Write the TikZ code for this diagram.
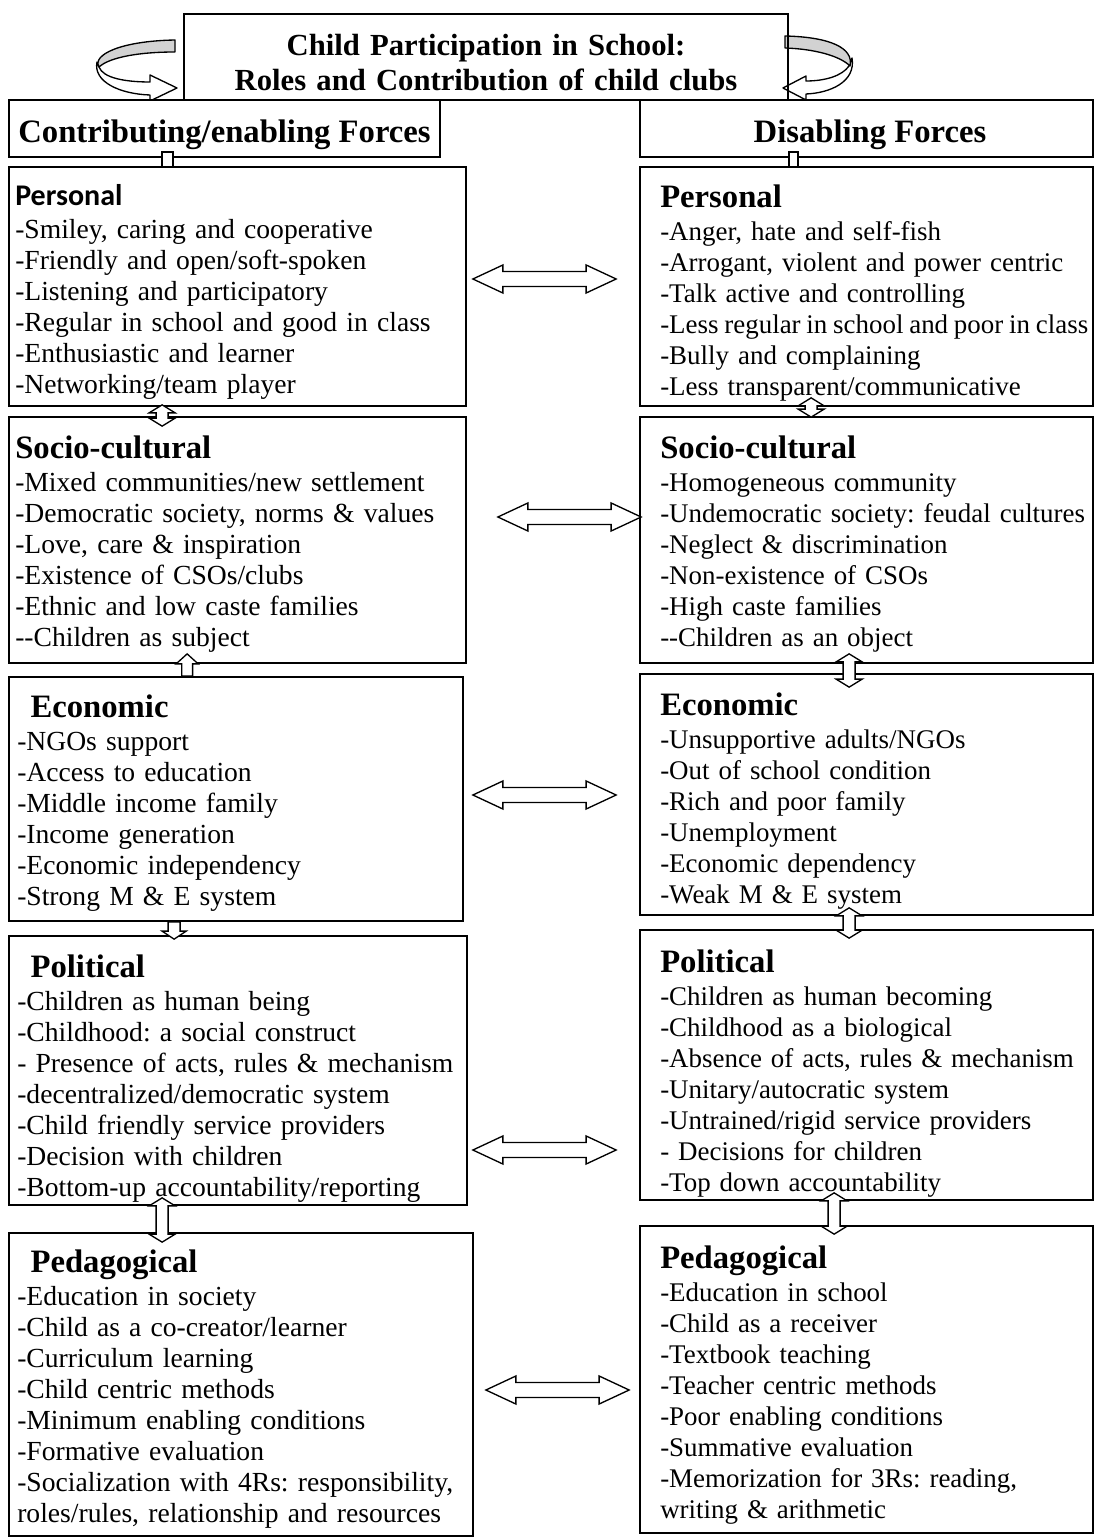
\documentclass[tikz,border=0pt]{standalone}
\usepackage{fontspec}
\setmainfont{Liberation Serif}
\newfontfamily\calibrifont{Carlito}
\usetikzlibrary{calc,fit}
\frenchspacing
\newcommand\bodyfont{\fontsize{20.7}{23.25}\selectfont}
\newcommand\rbodyfont{\fontsize{20.2}{23.25}\selectfont}
\newcommand\headfont{\fontsize{24.5}{26}\selectfont\bfseries}
\newcommand\sansheadfont{\calibrifont\fontsize{22.5}{24}\selectfont\bfseries}
\newcommand\titlefont{\fontsize{23}{26.25}\selectfont\bfseries}
\newcommand\tightspaces{\spaceskip=0.215em\relax}
\tikzset{
 box/.style={draw, line width=1.3pt, fill=white, rectangle, inner sep=0pt},
 linkbox/.style={draw, line width=1pt, fill=white, rectangle, inner sep=0pt},
 txt/.style={anchor=base west, inner sep=0pt, text width=400pt, align=left, font=\bodyfont},
 rtxt/.style={txt, font=\rbodyfont},
 headtxt/.style={anchor=base, inner sep=0pt, font=\headfont},
 blockarrow/.style={draw, line width=1pt, fill=white, line join=miter},
 ribbon/.style={draw, line width=1pt, line join=round},
}
% horizontal double block arrow
\newcommand\HArrow[2]{\draw[blockarrow] let \p1=#1, \p2=#2 in (\x1,\y1) -- (\x1+22.5pt,\y1+10.5pt) -- (\x1+22.5pt,\y1+5.6pt) -- (\x2-22.5pt,\y1+5.6pt) -- (\x2-22.5pt,\y1+10.5pt) -- (\x2,\y1) -- (\x2-22.5pt,\y1-10.5pt) -- (\x2-22.5pt,\y1-5.6pt) -- (\x1+22.5pt,\y1-5.6pt) -- (\x1+22.5pt,\y1-10.5pt) -- cycle;}
% vertical double block arrow (top point, bottom point)
\newcommand\VArrow[2]{\draw[blockarrow] let \p1=#1, \p2=#2 in (\x1,\y1) -- (\x1+9.75pt,\y1-6pt) -- (\x1+4.5pt,\y1-6pt) -- (\x1+4.5pt,\y2+6pt) -- (\x1+9.75pt,\y2+6pt) -- (\x1,\y2) -- (\x1-9.75pt,\y2+6pt) -- (\x1-4.5pt,\y2+6pt) -- (\x1-4.5pt,\y1-6pt) -- (\x1-9.75pt,\y1-6pt) -- cycle;}
% single up arrow (tip, tail)
\newcommand\UArrow[2]{\draw[blockarrow] let \p1=#1, \p2=#2 in (\x1,\y1) -- (\x1+8.25pt,\y1-7.5pt) -- (\x1+4.1pt,\y1-7.5pt) -- (\x1+4.1pt,\y2) -- (\x1-4.1pt,\y2) -- (\x1-4.1pt,\y1-7.5pt) -- (\x1-8.25pt,\y1-7.5pt) -- cycle;}
% single down arrow (tail, tip)
\newcommand\DArrow[2]{\draw[blockarrow] let \p1=#1, \p2=#2 in (\x1-4.5pt,\y1) -- (\x1+4.5pt,\y1) -- (\x1+4.5pt,\y2+6pt) -- (\x1+9pt,\y2+6pt) -- (\x1,\y2) -- (\x1-9pt,\y2+6pt) -- (\x1-4.5pt,\y2+6pt) -- cycle;}
\begin{document}
\begin{tikzpicture}[x=0.75pt, y=-0.75pt]
\useasboundingbox[fill=white] (0,0) rectangle (1095,1540);

% curved ribbon arrows at the title
\draw[ribbon, fill=white] (97,62) .. controls (93,82) and (120,94) .. (150,95) -- (150,101) -- (177,88) -- (150,75) -- (150,82) .. controls (125,82) and (103,78) .. (99,67) -- cycle;
\draw[ribbon, fill=gray!35] (175,40) .. controls (120,41) and (92,55) .. (99,67) .. controls (110,57) and (140,52) .. (175,52) -- cycle;
\draw[ribbon, fill=white] (852,58) .. controls (856,82) and (830,93) .. (806,94) -- (806,100) -- (783,88) -- (806,76) -- (806,81) .. controls (825,81) and (842,76) .. (849,66) -- cycle;
\draw[ribbon, fill=gray!35] (785,36) .. controls (830,37) and (854,48) .. (850,66) .. controls (840,56) and (815,49) .. (785,48) -- cycle;

% title
\node[box, fill=none, fit={(184,14) (788,100)}] (T) {};
\node[anchor=base, inner sep=0pt, text width=450pt, align=center, font=\titlefont] (Tt) at (486,56) {Child Participation in School:\\Roles and Contribution of child clubs};

% column heads
\node[box, fit={(9,100) (440,157)}] (LC) {};
\node[headtxt] (LCt) at (224.5,143) {Contributing/enabling Forces};
\node[box, fit={(640,100) (1093,157)}] (RC) {};
\node[headtxt] (RCt) at (870,143) {Disabling Forces};

% left boxes
\node[box, fit={(9,167) (466,406)}] (LP) {};
\node[box, fit={(9,417) (466,663)}] (LS) {};
\node[box, fit={(9,677) (463,921)}] (LE) {};
\node[box, fit={(9,936) (467,1205)}] (LPo) {};
\node[box, fit={(9,1233) (473,1536)}] (LPe) {};
% right boxes
\node[box, fit={(640,167) (1093,406)}] (RP) {};
\node[box, fit={(640,417) (1093,663)}] (RS) {};
\node[box, fit={(640,674) (1093,915)}] (RE) {};
\node[box, fit={(640,930) (1093,1200)}] (RPo) {};
\node[box, fit={(640,1226) (1093,1533)}] (RPe) {};

% small links under column heads
\node[linkbox, fit={(162,152) (173,167)}] (Llink) {};
\node[linkbox, fit={(789,152) (798,167)}] (Rlink) {};

% texts left
\node[txt] (LPt) at (15,206) {{\sansheadfont Personal}\\[1.5pt]
-Smiley, caring and cooperative\\
-Friendly and open/soft-spoken\\
-Listening and participatory\\
-Regular in school and good in class\\
-Enthusiastic and learner\\
-Networking/team player};
\node[txt] (LSt) at (15,458) {{\headfont Socio-cultural}\\[1.5pt]
-Mixed communities/new settlement\\
-Democratic society, norms \& values\\
-Love, care \& inspiration\\
-Existence of CSOs/clubs\\
-Ethnic and low caste families\\
-{}-Children as subject};
\node[txt] (LEt) at (17,717) {\hspace*{10pt}{\headfont Economic}\\[1.5pt]
-NGOs support\\
-Access to education\\
-Middle income family\\
-Income generation\\
-Economic independency\\
-Strong M \& E system};
\node[txt] (LPot) at (17,977) {\hspace*{10pt}{\headfont Political}\\[1.5pt]
-Children as human being\\
-Childhood: a social construct\\
- Presence of acts, rules \& mechanism\\
-decentralized/democratic system\\
-Child friendly service providers\\
-Decision with children\\
-Bottom-up accountability/reporting};
\node[txt] (LPet) at (17,1272) {\hspace*{10pt}{\headfont Pedagogical}\\[1.5pt]
-Education in society\\
-Child as a co-creator/learner\\
-Curriculum learning\\
-Child centric methods\\
-Minimum enabling conditions\\
-Formative evaluation\\
-Socialization with 4Rs: responsibility,\\
roles/rules, relationship and resources};

% texts right
\node[rtxt] (RPt) at (660,208) {{\headfont Personal}\\[1.5pt]
-Anger, hate and self-fish\\
-Arrogant, violent and power centric\\
-Talk active and controlling\\
{\tightspaces -Less regular in school and poor in class}\\
-Bully and complaining\\
-Less transparent/communicative};
\node[rtxt] (RSt) at (660,458) {{\headfont Socio-cultural}\\[1.5pt]
-Homogeneous community\\
-Undemocratic society: feudal cultures\\
-Neglect \& discrimination\\
-Non-existence of CSOs\\
-High caste families\\
-{}-Children as an object};
\node[rtxt] (REt) at (660,715) {{\headfont Economic}\\[1.5pt]
-Unsupportive adults/NGOs\\
-Out of school condition\\
-Rich and poor family\\
-Unemployment\\
-Economic dependency\\
-Weak M \& E system};
\node[rtxt] (RPot) at (660,972) {{\headfont Political}\\[1.5pt]
-Children as human becoming\\
-Childhood as a biological\\
-Absence of acts, rules \& mechanism\\
-Unitary/autocratic system\\
-Untrained/rigid service providers\\
- Decisions for children\\
-Top down accountability};
\node[rtxt] (RPet) at (660,1268) {{\headfont Pedagogical}\\[1.5pt]
-Education in school\\
-Child as a receiver\\
-Textbook teaching\\
-Teacher centric methods\\
-Poor enabling conditions\\
-Summative evaluation\\
-Memorization for 3Rs: reading,\\
writing \& arithmetic};

% horizontal double arrows
\HArrow{($(LP.east)+(6,-7.5)$)}{($(RP.west)+(-23,-7.5)$)}
\HArrow{($(LS.east)+(31,-23)$)}{($(RS.west)+(2,-23)$)}
\HArrow{($(LE.east)+(9,-4)$)}{($(RE.west)+(-23,-4)$)}
\HArrow{($(LPo.east)+(5,79.5)$)}{($(RPo.west)+(-23,79.5)$)}
\HArrow{($(LPe.east)+(12,5.5)$)}{($(RPe.west)+(-10,5.5)$)}

% vertical arrows
\VArrow{($(LP.south west)+(154,-2)$)}{($(LS.north west)+(154,10)$)}
\VArrow{($(RP.south west)+(172,-9)$)}{($(RS.north west)+(172,1)$)}
\UArrow{($(LS.south west)+(179,-10)$)}{($(LE.north west)+(179,0)$)}
\VArrow{($(RS.south west)+(210,-10)$)}{($(RE.north west)+(210,14)$)}
\DArrow{($(LE.south west)+(166,0)$)}{($(LPo.north west)+(166,4)$)}
\VArrow{($(RE.south west)+(210,-8)$)}{($(RPo.north west)+(210,9)$)}
\VArrow{($(LPo.south west)+(154,-8)$)}{($(LPe.north west)+(154,10)$)}
\VArrow{($(RPo.south west)+(195,-8)$)}{($(RPe.north west)+(195,9)$)}
\end{tikzpicture}
\end{document}
